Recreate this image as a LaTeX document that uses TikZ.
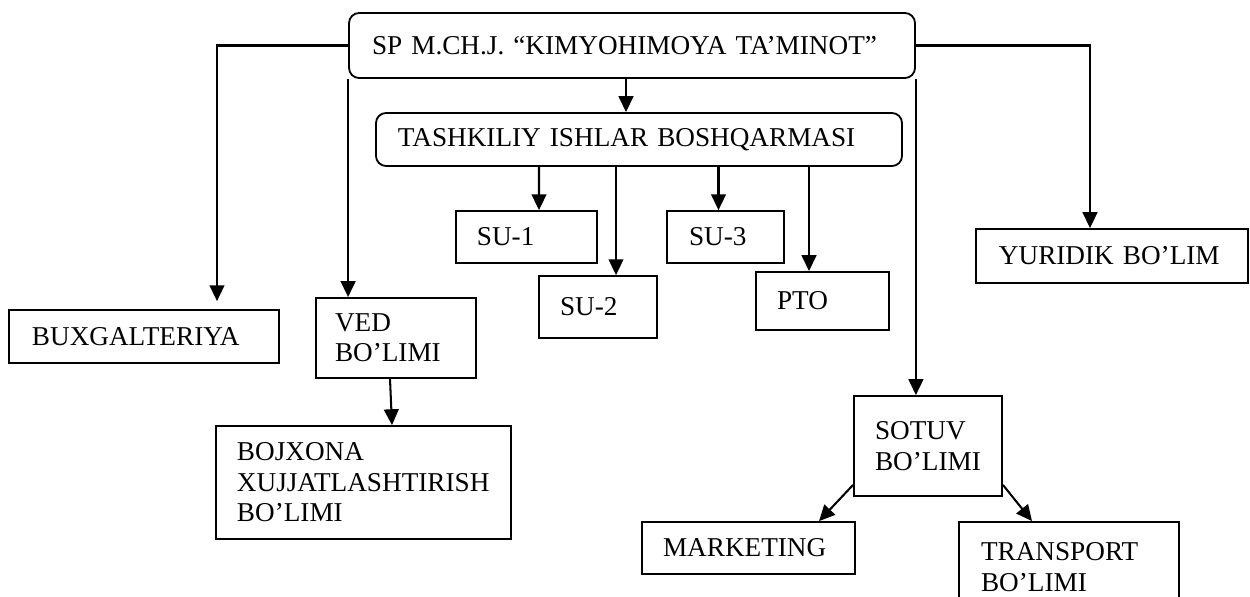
\documentclass[tikz,border=0pt]{standalone}
\usepackage{fontspec}
\setmainfont{Liberation Serif}
\usetikzlibrary{arrows.meta,calc}
\hyphenpenalty=10000
\exhyphenpenalty=10000
\begin{document}
\begin{tikzpicture}[x=0.441pt,y=-0.441pt,
  box/.style={draw, line width=0.8pt, align=left, inner ysep=2pt,
    font=\fontsize{12}{13.4}\selectfont},
  rbox/.style={box, rounded corners=4.5pt},
  arr/.style={line width=0.9pt, -{Triangle[length=7pt,width=6.5pt]}}]
\useasboundingbox[fill=white] (0,0) rectangle (1250,596);
% boxes
\node[rbox, minimum width=249.6pt, minimum height=28.7pt, inner xsep=10.1pt, text width=229.3pt] (top) at (632,45.5) {SP M.CH.J. “KIMYOHIMOYA TA’MINOT”};
\node[rbox, minimum width=232.0pt, minimum height=23.4pt, inner xsep=9.7pt, text width=212.6pt] (tash) at (639,139.5) {TASHKILIY ISHLAR BOSHQARMASI};
\node[box, minimum width=119.1pt, minimum height=23.4pt, inner xsep=10.1pt, text width=98.8pt] (bux) at (144,336.5) {BUXGALTERIYA};
\node[box, minimum width=70.6pt, minimum height=35.3pt, inner xsep=8.4pt, text width=53.8pt] (ved) at (396,338) {VED\\BO’LIMI};
\node[box, minimum width=130.1pt, minimum height=49.8pt, inner xsep=9.3pt, text width=111.6pt] (boj) at (363.5,482.5) {BOJXONA\\XUJJATLASHTIRISH\\BO’LIMI};
\node[box, minimum width=62.2pt, minimum height=22.9pt, inner xsep=9.3pt, text width=43.7pt] (su1) at (526.5,237) {SU-1};
\node[box, minimum width=52.0pt, minimum height=27.3pt, inner xsep=9.3pt, text width=33.5pt] (su2) at (598,307) {SU-2};
\node[box, minimum width=51.6pt, minimum height=22.9pt, inner xsep=9.7pt, text width=32.2pt] (su3) at (725.5,237) {SU-3};
\node[box, minimum width=58.7pt, minimum height=25.6pt, inner xsep=9.3pt, text width=40.1pt] (pto) at (822.5,301) {PTO};
\node[box, minimum width=120.0pt, minimum height=23.8pt, inner xsep=10.1pt, text width=99.7pt] (yur) at (1112,256) {YURIDIK BO’LIM};
\node[box, minimum width=65.3pt, minimum height=44.1pt, inner xsep=9.3pt, text width=46.7pt] (sot) at (928,446) {SOTUV\\BO’LIMI};
\node[box, minimum width=93.9pt, minimum height=22.9pt, inner xsep=9.3pt, text width=75.4pt] (mkt) at (748.5,548) {MARKETING};
\node[box, minimum width=97.0pt, minimum height=39.7pt, inner xsep=9.7pt, text width=77.6pt] (tra) at (1069,567) {TRANSPORT\\BO’LIMI};
% connectors
\draw[arr, shorten >=3.5pt] (top.west) -| ($(bux.north)+(73,0)$);
\draw[arr] (top.south west) -- (top.south west |- ved.north);
\draw[arr] ($(top.south)+(-6,0)$) -- ($(tash.north)+(-13,0)$);
\draw[arr] ($(tash.south)+(-100,0)$) -- ($(su1.north)+(12.5,0)$);
\draw[arr] ($(tash.south)+(-23,0)$) -- ($(su2.north)+(18,0)$);
\draw[arr] ($(tash.south)+(79.5,0)$) -- ($(su3.north)+(-7,0)$);
\draw[arr] ($(tash.south)+(170,0)$) -- ($(pto.north)+(-13.5,0)$);
\draw[arr] (top.east) -| ($(yur.north)+(-22,0)$);
\draw[arr] (top.south east) -- (top.south east |- sot.north);
\draw[arr] ($(ved.south)+(-6,0)$) -- ($(boj.north)+(28.5,0)$);
\draw[arr] ($(sot.south west)+(0,-12)$) -- ($(mkt.north)+(70.5,0)$);
\draw[arr] ($(sot.south east)+(0,-12)$) -- ($(tra.north)+(-37,0)$);
\end{tikzpicture}
\end{document}
